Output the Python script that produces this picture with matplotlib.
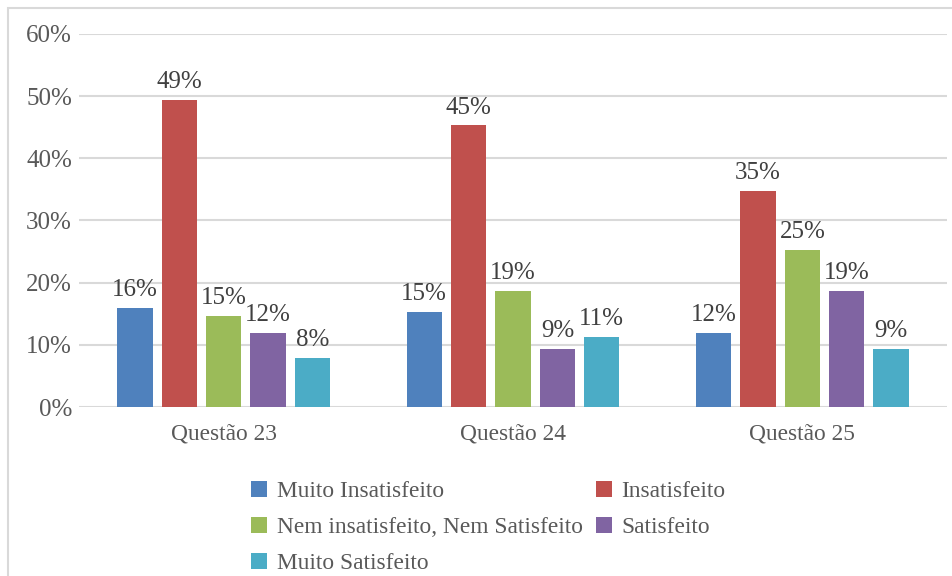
import matplotlib
matplotlib.use("Agg")
import matplotlib.pyplot as plt
from matplotlib.patches import Rectangle
from matplotlib.ticker import PercentFormatter
import numpy as np

plt.rcParams['font.family'] = ['Liberation Serif', 'DejaVu Serif']

questoes = ["Questão 23", "Questão 24", "Questão 25"]
respostas = ["Muito Insatisfeito", "Insatisfeito", "Nem insatisfeito, Nem Satisfeito",
             "Satisfeito", "Muito Satisfeito"]
muito_insat = [0.160, 0.153, 0.119]
insat = [0.494, 0.453, 0.347]
nem = [0.147, 0.187, 0.253]
satisf = [0.119, 0.094, 0.187]
muito_satisf = [0.079, 0.113, 0.094]
series = [muito_insat, insat, nem, satisf, muito_satisf]
cores = ["#4F81BD", "#C0504D", "#9BBB59", "#8064A2", "#4BACC6"]

fig = plt.figure(figsize=(9.52, 5.76), dpi=100)
ax = fig.add_axes([79/952, 1 - 407/576, (947 - 79)/952, (407 - 34)/576])

# moldura cinza em volta do gráfico
fig.patches.append(Rectangle((8/952, -0.1), 1.2, 1 - 8/576 + 0.1, transform=fig.transFigure,
                             fill=False, edgecolor="#d9d9d9", linewidth=1.5))

x = np.arange(len(questoes))
passo = 0.1534
largura = 0.1224
barras = []
for i, (vals, cor) in enumerate(zip(series, cores)):
    pos = x + (i - 2) * passo
    b = ax.bar(pos, vals, width=largura, color=cor, label=respostas[i], zorder=3)
    barras.append(b)
    for px, v in zip(pos, vals):
        ax.text(px, v + 0.011, f"{v*100:.0f}%", ha="center", va="bottom",
                fontsize=18, color="#404040")

ax.set_xlim(-0.5, 2.5)
ax.set_ylim(0, 0.6)
ax.set_yticks(np.arange(0, 0.61, 0.1))
ax.yaxis.set_major_formatter(PercentFormatter(1.0, decimals=0))
ax.set_xticks(x)
ax.set_xticklabels(questoes)
ax.tick_params(axis="both", length=0, colors="#595959")
ax.tick_params(axis="y", pad=5, labelsize=18)
ax.tick_params(axis="x", pad=12, labelsize=16.8)
ax.grid(axis="y", color="#d9d9d9", linewidth=1.5, zorder=0)
for s in ax.spines.values():
    s.set_visible(False)

ordem = [0, 2, 4, 1, 3]
leg = fig.legend([barras[i] for i in ordem], [respostas[i] for i in ordem],
                 ncol=2, loc="upper left", bbox_to_anchor=(251/952, 1 - 481/576),
                 frameon=False, fontsize=16.8, handlelength=0.7, handleheight=0.7,
                 handletextpad=0.4, columnspacing=0.55, labelspacing=0.62,
                 borderpad=0, borderaxespad=0)
for t in leg.get_texts():
    t.set_color("#595959")

fig.savefig("out.png", dpi=100)
